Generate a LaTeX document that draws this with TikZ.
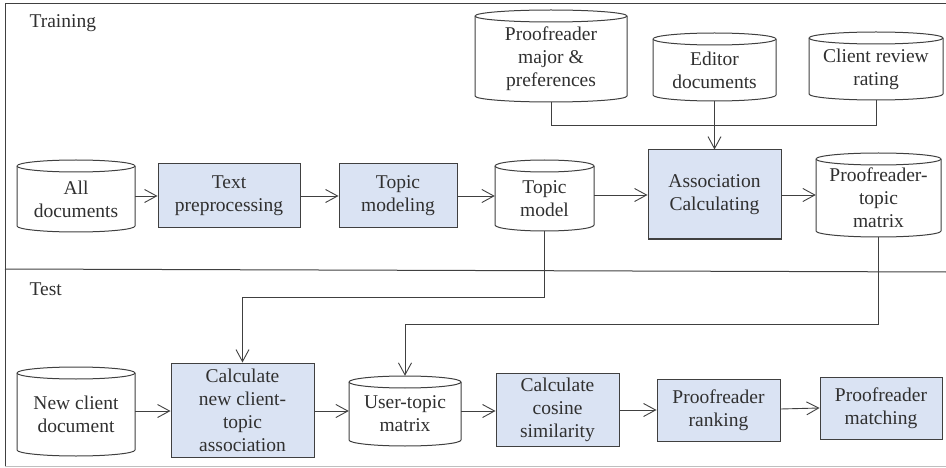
\documentclass[tikz,border=0pt]{standalone}
\usepackage{fontspec}
\newfontfamily\diagfont{Liberation Serif}
\usetikzlibrary{arrows.meta}
\definecolor{boxfill}{HTML}{DAE3F3}
\definecolor{ln}{HTML}{404040}
\definecolor{tx}{HTML}{303030}
\tikzset{
  lbl/.style={font=\diagfont\fontsize{19.5}{23}\selectfont, text=tx},
  procbox/.style={lbl, draw=ln, line width=1pt, fill=boxfill, align=center, inner sep=0pt},
  cyltext/.style={lbl, align=center, inner sep=0pt},
  cylline/.style={draw=ln, line width=1pt, fill=white},
  conn/.style={draw=ln, line width=0.9pt},
  arr/.style={conn, -{Straight Barb[length=12pt,width=13pt]}},
}
% name, cx, cy, w, h, text
\newcommand\cylnode[6]{%
  \path[cylline] (#2-#4/2,#3-#5/2+6) -- (#2-#4/2,#3+#5/2-6)
    arc[start angle=180,end angle=360,x radius={(#4)*0.5pt},y radius=6pt]
    -- (#2+#4/2,#3-#5/2+6)
    arc[start angle=0,end angle=180,x radius={(#4)*0.5pt},y radius=6pt] -- cycle;
  \draw[cylline] (#2-#4/2,#3-#5/2+6)
    arc[start angle=180,end angle=360,x radius={(#4)*0.5pt},y radius=6pt];
  \node[cyltext, minimum width=#4pt, minimum height=#5pt] (#1) at (#2,#3) {};
  \node[cyltext] (#1-t) at (#2,#3+3) {#6};
}
\begin{document}
\begin{tikzpicture}[x=1pt,y=-1pt]
\useasboundingbox (0,0) rectangle (946,468);
% frame
\draw[ln, line width=1pt] (5,466) -- (5,4) -- (946,4);
\draw[black!25, line width=1pt] (5,466) -- (946,466);
\draw[ln, line width=1pt] (5,269) -- (946,272);
\node[lbl, anchor=west] (ltrain) at (26,23) {Training};
\node[lbl, anchor=west] (ltest) at (26,289) {Test};
% training row
\cylnode{alld}{76}{196}{118}{72}{All\\documents}
\node[procbox, minimum width=142pt, minimum height=64pt] (textp) at (229,196) {Text\\preprocessing};
\node[procbox, minimum width=118pt, minimum height=64pt] (topm) at (398,196) {Topic\\modeling};
\cylnode{tmodel}{544.5}{195.5}{99}{71}{Topic\\model}
\node[procbox, minimum width=133pt, minimum height=89pt] (assoc) at (714.5,194.5) {Association\\Calculating};
\cylnode{ptm}{878.5}{195}{125}{84}{Proofreader-\\topic\\matrix}
% top cylinders
\cylnode{pmp}{551}{56}{152}{92}{Proofreader\\major \&\\preferences}
\cylnode{edoc}{714.5}{67}{123}{68}{Editor\\documents}
\cylnode{crr}{876}{66}{134}{68}{Client review\\rating}
% test row
\cylnode{ncd}{76}{411.5}{118}{89}{New client\\document}
\node[procbox, minimum width=143pt, minimum height=94pt] (calc) at (242.5,410) {Calculate\\new client-\\topic\\association};
\cylnode{utm}{405}{411}{112}{70}{User-topic\\matrix};
\node[procbox, minimum width=123pt, minimum height=73pt] (cos) at (557.5,409.5) {Calculate\\cosine\\similarity};
\node[procbox, minimum width=123pt, minimum height=62pt] (rank) at (718.5,410) {Proofreader\\ranking};
\node[procbox, minimum width=122pt, minimum height=62pt] (match) at (881,408) {Proofreader\\matching};
% connectors training
\draw[arr] (alld.east |- 0,196) -- (textp.west);
\draw[arr] (textp.east) -- (topm.west);
\draw[arr] (topm.east) -- (tmodel.west |- topm.east);
\draw[arr] (tmodel.east |- 0,195) -- (assoc.west |- 0,195);
\draw[arr] (assoc.east |- 0,195) -- (ptm.west |- 0,195);
\coordinate (jtop) at (714.5,125);
\draw[conn] (pmp.south) -- (pmp.south |- jtop) -- (crr.south |- jtop) -- (crr.south);
\draw[arr] (edoc.south) -- (assoc.north);
% connectors to test
\coordinate (j1) at (544.5,297);
\draw[arr] (tmodel.south) -- (j1) -| (calc.north);
\coordinate (j2) at (878.5,324);
\draw[arr] (ptm.south) -- (j2) -| (utm.north);
% test row connectors
\draw[arr] (ncd.east |- 0,411) -- (calc.west |- 0,411);
\draw[arr] (calc.east |- 0,411) -- (utm.west |- 0,411);
\draw[arr] (utm.east |- 0,411) -- (cos.west |- 0,411);
\draw[arr] (cos.east |- 0,410) -- (rank.west |- 0,410);
\draw[arr] (rank.east |- 0,409) -- (match.west |- 0,408);
\end{tikzpicture}
\end{document}
